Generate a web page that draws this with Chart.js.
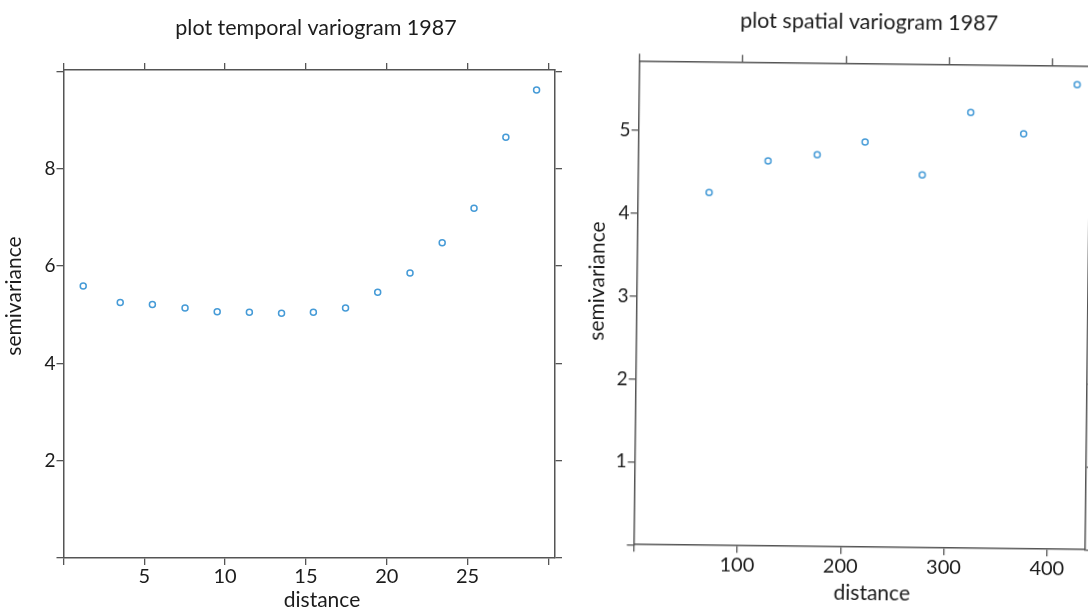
<!DOCTYPE html>
<html>
<head>
<meta charset="utf-8">
<script src="https://cdn.jsdelivr.net/npm/chart.js@4/dist/chart.umd.min.js"></script>
<style>
  html, body { margin: 0; padding: 0; background: #ffffff; }
  body { width: 1088px; height: 607px; overflow: hidden; position: relative; }
  canvas { position: absolute; top: 0; }
  #left { left: 0; }
  #right { left: 570px; transform: rotate(0.65deg); transform-origin: 292px 305px; }
</style>
</head>
<body>
<canvas id="left" width="570" height="620"></canvas>
<canvas id="right" width="560" height="620"></canvas>
<script>
// ---- data ----
const temporalDistance = [1.22, 3.51, 5.50, 7.52, 9.51, 11.50, 13.49, 15.46, 17.45, 19.44, 21.44, 23.43, 25.40, 27.37, 29.27];
const temporalGamma    = [5.59, 5.25, 5.21, 5.14, 5.06, 5.05, 5.03, 5.05, 5.14, 5.46, 5.86, 6.48, 7.19, 8.65, 9.62];
const spatialDistance  = [69.0, 125.7, 173.2, 219.4, 275.1, 321.4, 372.8, 424.1];
const spatialGamma     = [4.26, 4.65, 4.73, 4.89, 4.50, 5.26, 5.01, 5.61];

const temporalXTicks  = [0, 5, 10, 15, 20, 25, 30];
const temporalXLabels = [5, 10, 15, 20, 25];
const temporalYTicks  = [0, 2, 4, 6, 8, 10];
const temporalYLabels = [2, 4, 6, 8];
const spatialXTicks   = [0, 100, 200, 300, 400];
const spatialXLabels  = [100, 200, 300, 400];
const spatialYTicks   = [0, 1, 2, 3, 4, 5];
const spatialYLabels  = [1, 2, 3, 4, 5];

const temporalTitle = 'plot temporal variogram 1987';
const spatialTitle  = 'plot spatial variogram 1987';
const xTitle = 'distance';
const yTitle = 'semivariance';

// ---- styling ----
const FONT = 'Lato, "Open Sans", sans-serif';
const AXIS = '#555555';
const TEXT = '#1c1c1c';
const POINT = 'rgb(70,155,215)';

const panelText = {
  id: 'panelText',
  afterDraw(chart, args, opts) {
    const ctx = chart.ctx;
    ctx.save();
    ctx.fillStyle = TEXT;
    ctx.textAlign = 'center';
    ctx.textBaseline = 'middle';
    ctx.font = opts.titleSize + 'px ' + FONT;
    ctx.fillText(opts.title, opts.titleX, opts.titleY);
    ctx.font = opts.axisSize + 'px ' + FONT;
    ctx.fillText(opts.xTitle, opts.xTitleX, opts.xTitleY);
    ctx.translate(opts.yTitleX, opts.yTitleY);
    ctx.rotate(-Math.PI / 2);
    ctx.fillText(opts.yTitle, 0, 0);
    ctx.restore();
  }
};

function fixedSize(prop, size) {
  return function (scale) { scale[prop] = size; };
}
function setTicks(values) {
  return function (scale) { scale.ticks = values.map(v => ({ value: v })); };
}
function labelIf(labels) {
  return function (v) { return labels.includes(v) ? String(v) : ''; };
}
function axisCommon() {
  return {
    grid: { drawOnChartArea: false, drawTicks: true, tickLength: 7, color: AXIS, lineWidth: 1.3 },
    border: { display: true, color: AXIS, width: 1.5 },
  };
}

function makeChart(id, cfg) {
  return new Chart(document.getElementById(id), {
    type: 'scatter',
    data: {
      datasets: [{
        data: cfg.xs.map((x, i) => ({ x: x, y: cfg.ys[i] })),
        pointStyle: 'circle',
        pointRadius: 3,
        pointBorderWidth: 1.5,
        pointBorderColor: POINT,
        pointBackgroundColor: 'rgba(255,255,255,0)',
        showLine: false
      }]
    },
    options: {
      responsive: false,
      animation: false,
      devicePixelRatio: 1,
      layout: { padding: { top: cfg.padTop, left: 0, right: 0, bottom: 0 } },
      plugins: {
        legend: { display: false },
        tooltip: { enabled: false },
        title: { display: false },
        panelText: cfg.text
      },
      scales: {
        x: Object.assign(axisCommon(), {
          type: 'linear', position: 'bottom', min: cfg.xMin, max: cfg.xMax,
          afterBuildTicks: setTicks(cfg.xTicks),
          afterFit: fixedSize('height', cfg.bottomH),
          ticks: { autoSkip: false, maxRotation: 0, padding: cfg.xTickPad, color: TEXT,
                   font: { family: FONT, size: cfg.xTickSize }, callback: labelIf(cfg.xLabels) }
        }),
        x2: Object.assign(axisCommon(), {
          type: 'linear', position: 'top', min: cfg.xMin, max: cfg.xMax,
          afterBuildTicks: setTicks(cfg.xTicks),
          afterFit: fixedSize('height', 8),
          ticks: { display: false }
        }),
        y: Object.assign(axisCommon(), {
          type: 'linear', position: 'left', min: cfg.yMin, max: cfg.yMax,
          afterBuildTicks: setTicks(cfg.yTicks),
          afterFit: fixedSize('width', cfg.leftW),
          ticks: { autoSkip: false, padding: 1, color: TEXT,
                   font: { family: FONT, size: cfg.yTickSize }, callback: labelIf(cfg.yLabels) }
        }),
        y2: Object.assign(axisCommon(), {
          type: 'linear', position: 'right', min: cfg.yMin, max: cfg.yMax,
          afterBuildTicks: setTicks(cfg.yTicks),
          afterFit: fixedSize('width', cfg.rightW),
          ticks: { display: false }
        })
      }
    },
    plugins: [panelText]
  });
}

makeChart('left', {
  xs: temporalDistance, ys: temporalGamma,
  xMin: 0, xMax: 30.41, yMin: 0, yMax: 10.03,
  xTicks: temporalXTicks, xLabels: temporalXLabels,
  yTicks: temporalYTicks, yLabels: temporalYLabels,
  padTop: 62, bottomH: 62, leftW: 63.5, rightW: 15,
  xTickPad: 0, xTickSize: 20, yTickSize: 19,
  text: { title: temporalTitle, titleX: 316, titleY: 28, titleSize: 21.5,
          xTitle: xTitle, xTitleX: 322, xTitleY: 600,
          yTitle: yTitle, yTitleX: 14, yTitleY: 296, axisSize: 21 }
});

makeChart('right', {
  xs: spatialDistance, ys: spatialGamma,
  xMin: 0, xMax: 437, yMin: 0, yMax: 5.84,
  xTicks: spatialXTicks, xLabels: spatialXLabels,
  yTicks: spatialYTicks, yLabels: spatialYLabels,
  padTop: 55.3, bottomH: 72.8, leftW: 66.6, rightW: 42,
  xTickPad: 0, xTickSize: 20, yTickSize: 19,
  text: { title: spatialTitle, titleX: 296, titleY: 22, titleSize: 21.5,
          xTitle: xTitle, xTitleX: 305, xTitleY: 593,
          yTitle: yTitle, yTitleX: 27, yTitleY: 284, axisSize: 21 }
});
</script>
</body>
</html>
